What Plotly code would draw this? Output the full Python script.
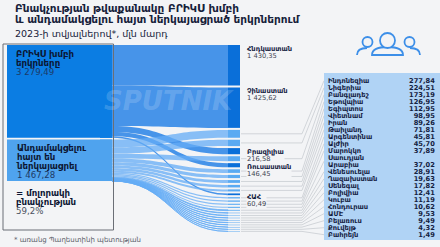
import plotly.graph_objects as go

# ---------------- data ----------------
title_lines = ["Բնակչության թվաքանակը ԲՐԻԿՍ խմբի",
               "և անդամակցելու հայտ ներկայացրած երկրներում"]
subtitle = "2023-ի տվյալներով*, մլն մարդ"
footnote = "* առանց Պաղեստինի պետության"

group_names = [["ԲՐԻԿՍ խմբի", "երկրները"],
               ["Անդամակցելու", "հայտ են", "ներկայացրել"]]
group_totals = [3279.49, 1467.28]
share_lines = ["= մոլորակի", "բնակչության"]
share_value = "59,2%"

brics_countries = ["Հնդկաստան", "Չինաստան", "Բրազիլիա", "Ռուսաստան", "ՀԱՀ"]
brics_values = [1430.35, 1425.62, 216.58, 146.45, 60.49]

applicant_countries = [["Ինդոնեզիա"], ["Նիգերիա"], ["Բանգլադեշ"], ["Եթովպիա"],
                       ["Եգիպտոս"], ["Վիետնամ"], ["Իրան"], ["Թաիլանդ"],
                       ["Արգենտինա"], ["Ալժիր"], ["Մարոկկո"], ["Սաուդյան", "Արաբիա"],
                       ["Վենեսուելա"], ["Ղազախստան"], ["Սենեգալ"], ["Բոլիվիա"],
                       ["Կուբա"], ["Հոնդուրաս"], ["ԱՄԷ"], ["Բելառուս"],
                       ["Քուվեյթ"], ["Բահրեյն"]]
applicant_values = [277.84, 224.51, 173.19, 126.95, 112.95, 98.95, 89.26, 71.81,
                    45.81, 45.70, 37.89, 37.02, 28.91, 19.63, 17.82, 12.41, 11.19,
                    10.62, 9.53, 9.49, 4.32, 1.49]

# ---------------- helpers ----------------
W, H = 440, 247
FONT = "DejaVu Sans"
NAVY = "#14213f"
VALC = "#1d3a66"
bg = "#f3f4f6"


def fmt(v):
    s = f"{v:,.2f}"
    return s.replace(",", " ").replace(".", ",")


def px(x):
    return x / W


def py(y):
    return 1 - y / H


annotations = []
shapes = []


def block(x, y_first, spacing, lines, xanchor="left", align="left", bgc=None):
    """lines: list of (text, size, color, bold). Line pitch = spacing px."""
    parts = []
    for (s, size, color, bold) in lines:
        t = f"<b>{s}</b>" if bold else s
        parts.append(f'<span style="font-size:{size}px;color:{color}">{t}</span>')
    n = len(lines)
    yc = y_first + spacing * (n - 1) / 2
    a = dict(x=px(x), y=py(yc), xref="paper", yref="paper", text="<br>".join(parts),
             showarrow=False, xanchor=xanchor, yanchor="middle", align=align,
             font=dict(family=FONT, size=spacing / 1.3, color=NAVY))
    if bgc:
        a["bgcolor"] = bgc
        a["borderpad"] = 0
    annotations.append(a)


# ---------------- sankey geometry (from d3-sankey scale) ----------------
targets = [(n, v, 0) for n, v in zip(brics_countries, brics_values)] + \
          [(" ".join(n), v, 1) for n, v in zip(applicant_countries, applicant_values)]
n_t = len(targets)
pad = 4.33
ky = (H - (n_t - 1) * pad) / sum(t[1] for t in targets)
top = 45.0
gap = 2.0
left_cx, right_cx = 106.0, 234.0

order = sorted(range(n_t), key=lambda i: -targets[i][1])
t_top = {}
cur = top
for i in order:
    t_top[i] = cur
    cur += ky * targets[i][1] + gap

src_sums = [sum(brics_values), sum(applicant_values)]
src_top = [top, top + ky * src_sums[0] + 1.6]

node_x = [px(left_cx)] * 2 + [px(right_cx)] * n_t
node_y = [(src_top[k] + ky * src_sums[k] / 2) / H for k in range(2)] + \
         [(t_top[i] + ky * targets[i][1] / 2) / H for i in range(n_t)]
node_col = ["#0b7de3", "#4fa3ee"] + ["#0a6fd9" if t[2] == 0 else "#5aaaf2" for t in targets]

link_src = [t[2] for t in targets]
link_tgt = [2 + i for i in range(n_t)]
link_val = [t[1] for t in targets]
link_col = ["rgba(40,130,230,0.85)" if t[2] == 0 else "rgba(100,172,245,0.75)" for t in targets]

sankey = go.Sankey(
    arrangement="fixed",
    domain=dict(x=[0, 1], y=[0, 1]),
    node=dict(label=[""] * (2 + n_t), x=node_x, y=node_y, pad=pad, thickness=12,
              color=node_col, line=dict(width=0)),
    link=dict(source=link_src, target=link_tgt, value=link_val, color=link_col),
    hoverinfo="skip",
)

# ---------------- decorations ----------------
# right list panel
shapes.append(dict(type="rect", xref="paper", yref="paper", x0=px(324), x1=px(440),
                   y0=py(240), y1=py(73), fillcolor="#b0d3f5", line=dict(width=0), layer="below"))
# left boxes
box_cols = ["#0b7de3", "#4fa3ee"]
for k in range(2):
    shapes.append(dict(type="rect", xref="paper", yref="paper", x0=px(7), x1=px(112),
                       y0=py(src_top[k] + ky * src_sums[k]), y1=py(src_top[k]),
                       fillcolor=box_cols[k], line=dict(width=0), layer="below"))
shapes.append(dict(type="rect", xref="paper", yref="paper", x0=px(3), x1=px(113.5),
                   y0=py(230), y1=py(44), line=dict(color="#6b6f76", width=1)))

# left texts
for k in range(2):
    lines = [(ln, 8.6, "#0c1633", True) for ln in group_names[k]]
    lines.append((fmt(group_totals[k]), 8.6, VALC, False))
    block(14, src_top[k] + 8.8, 8.9, lines)
lines = [(ln, 8.6, "#0c1633", True) for ln in share_lines] + [(share_value, 8.6, "#4a5160", False)]
block(14, src_top[1] + ky * src_sums[1] + 12.5, 8.9, lines)

# labels of BRICS targets
for i, t in enumerate(targets):
    if t[2] == 0:
        block(246, t_top[i] + 3.5, 7.0,
              [(t[0], 6.7, NAVY, True), (fmt(t[1]), 6.7, "#3c4250", False)], bgc=bg)

# applicant list + connectors
row = 0
row_y0, row_h = 80.7, 7.0
name_lines, value_lines = [], []
for j, (names, v) in enumerate(zip(applicant_countries, applicant_values)):
    i = len(brics_values) + j
    ys = []
    for k, ln in enumerate(names):
        ys.append(row_y0 + row * row_h)
        name_lines.append((ln, 6.7, NAVY, True))
        value_lines.append((fmt(v) if k == len(names) - 1 else "\u00a0", 6.7, NAVY, True))
        row += 1
    yc = t_top[i] + ky * v / 2
    ly = sum(ys) / len(ys)
    shapes.append(dict(type="path", xref="paper", yref="paper",
                       path=f"M {px(241)} {py(yc)} L {px(302)} {py(yc)} L {px(324)} {py(ly)}",
                       line=dict(color="#c3c7cd", width=0.7), layer="below"))
block(326, row_y0, row_h, name_lines)
block(437, row_y0, row_h, value_lines, xanchor="right", align="right")

# title
block(13, 8.0, 11.4, [(ln, 10.5, "#16213a", True) for ln in title_lines])
block(13, 33, 10, [(subtitle, 9.5, "#16213a", False)])
block(12, 240, 8, [(footnote, 7, "#5c616b", False)])

# watermark (kept clear of the node labels)
annotations.append(dict(x=px(236), y=py(101), xref="paper", yref="paper", text="<b><i>SPUTNIK</i></b>",
                        xanchor="right", showarrow=False,
                        font=dict(family=FONT, size=26, color="rgba(255,255,255,0.18)")))

# people icon
ic = "#3d8fe8"
for (cx, cy, r) in [(367.5, 42, 5), (409.5, 42, 5)]:
    shapes.append(dict(type="circle", xref="paper", yref="paper", x0=px(cx - r), x1=px(cx + r),
                       y0=py(cy + r), y1=py(cy - r), line=dict(color=ic, width=1.8)))
shapes.append(dict(type="path", xref="paper", yref="paper",
                   path=f"M {px(357)} {py(55)} Q {px(357)} {py(48)} {px(367)} {py(48)}",
                   line=dict(color=ic, width=1.8)))
shapes.append(dict(type="path", xref="paper", yref="paper",
                   path=f"M {px(420)} {py(55)} Q {px(420)} {py(48)} {px(410)} {py(48)}",
                   line=dict(color=ic, width=1.8)))
shapes.append(dict(type="path", xref="paper", yref="paper",
                   path=f"M {px(372)} {py(55)} Q {px(372)} {py(47)} {px(387.5)} {py(47)} "
                        f"Q {px(403)} {py(47)} {px(403)} {py(55)} Z",
                   fillcolor=bg, line=dict(color=ic, width=1.8)))
shapes.append(dict(type="circle", xref="paper", yref="paper", x0=px(380), x1=px(395),
                   y0=py(48), y1=py(33), fillcolor=bg, line=dict(color=ic, width=1.8)))

fig = go.Figure(sankey)
fig.update_layout(width=W, height=H, margin=dict(l=0, r=0, t=0, b=0),
                  paper_bgcolor=bg, plot_bgcolor=bg,
                  annotations=annotations, shapes=shapes, showlegend=False)
fig.write_html("out.html")
